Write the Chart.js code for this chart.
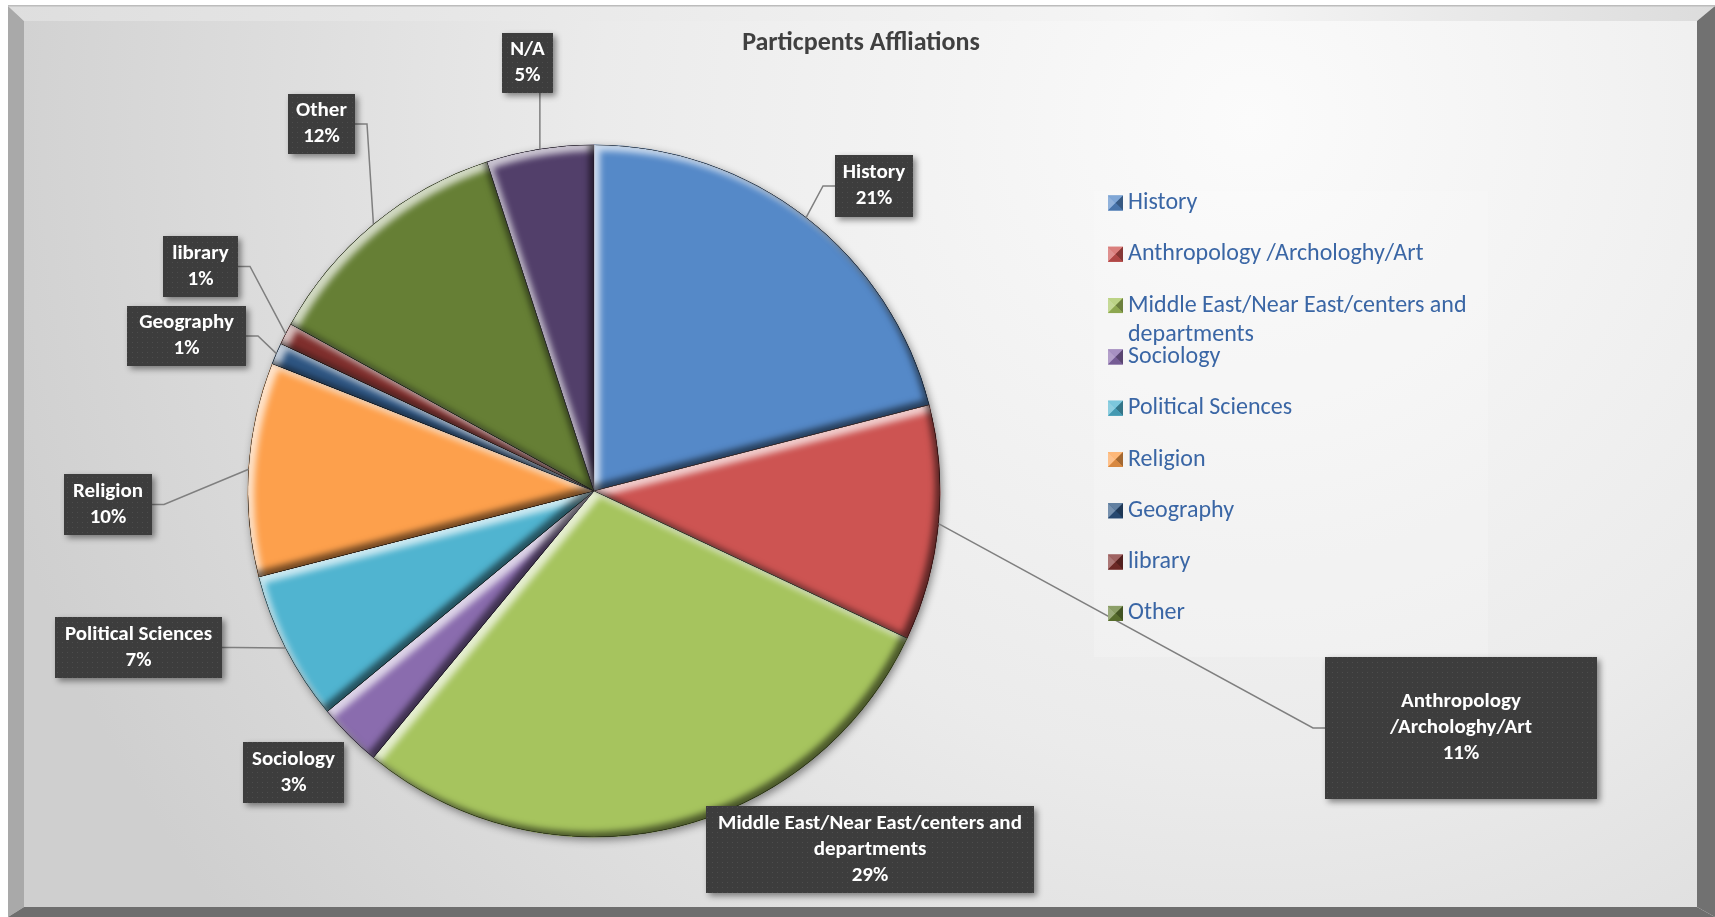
<!DOCTYPE html>
<html>
<head>
<meta charset="utf-8">
<title>Particpents Affliations</title>
<script src="https://cdn.jsdelivr.net/npm/chart.js@4.4.1/dist/chart.umd.min.js"></script>
<style>
  html, body { margin: 0; padding: 0; background: #fff; }
  #wrap { width: 1715px; height: 917px; }
</style>
</head>
<body>
<div id="wrap"><canvas id="pieChart" width="1715" height="917"></canvas></div>
<script>
// ---- data ----
const categories = [
  'History',
  'Anthropology /Archologhy/Art',
  'Middle East/Near East/centers and departments',
  'Sociology',
  'Political Sciences',
  'Religion',
  ' Geography',
  'library',
  'Other',
  'N/A'
];
const shares = [21, 11, 29, 3, 7, 10, 1, 1, 12, 5];
const notInLegend = ['N/A'];

// ---- styles ----
const sliceColors = ['#5589c8', '#cd5452', '#a6c45e', '#8a6cae', '#50b4d0',
                     '#fda04c', '#2e5582', '#7f2f2d', '#667f35', '#523f6a'];
const FONT = "Carlito, Calibri, Lato, 'Open Sans', sans-serif";

// label boxes: center x, center y, width, height, wrap width, draw leader line
const labelBoxes = [
  [874, 186, 78, 62, 999, true],
  [1461, 728, 272, 142, 200, true],
  [870, 849.5, 328, 87, 335, false],
  [293.5, 772.5, 101, 61, 999, false],
  [138.5, 647.5, 167, 61, 999, true],
  [108, 504.5, 88, 61, 999, true],
  [186.5, 336, 119, 60, 999, true],
  [200.5, 266.5, 75, 61, 999, true],
  [321.5, 124, 67, 60, 999, true],
  [527.5, 63, 51, 60, 999, true]
];

function shade(hex, amt) {
  const n = parseInt(hex.slice(1), 16);
  let r = n >> 16, g = (n >> 8) & 255, b = n & 255;
  const t = amt < 0 ? 0 : 255, p = Math.abs(amt);
  r = Math.round(r + (t - r) * p);
  g = Math.round(g + (t - g) * p);
  b = Math.round(b + (t - b) * p);
  return `rgb(${r},${g},${b})`;
}

function wrapText(ctx, text, maxW) {
  const words = text.split(' ');
  const lines = [];
  let cur = '';
  words.forEach(w => {
    const test = cur ? cur + ' ' + w : w;
    if (cur && ctx.measureText(test).width > maxW) {
      lines.push(cur);
      cur = w;
    } else {
      cur = test;
    }
  });
  if (cur) lines.push(cur);
  return lines;
}

function arcPath(ctx, el) {
  const p = el.getProps(['x', 'y', 'startAngle', 'endAngle', 'outerRadius'], true);
  ctx.moveTo(p.x, p.y);
  ctx.arc(p.x, p.y, p.outerRadius, p.startAngle, p.endAngle);
  ctx.closePath();
}

function innerShade(ctx, chart, el, color, dx, dy, blur) {
  ctx.save();
  ctx.beginPath();
  arcPath(ctx, el);
  ctx.clip();
  ctx.beginPath();
  ctx.rect(-60, -60, chart.width + 120, chart.height + 120);
  arcPath(ctx, el);
  ctx.shadowColor = color;
  ctx.shadowBlur = blur;
  ctx.shadowOffsetX = dx;
  ctx.shadowOffsetY = dy;
  ctx.fillStyle = '#000';
  ctx.fill('evenodd');
  ctx.restore();
}

// ---- plugins ----
const framePlugin = {
  id: 'frame',
  beforeDraw(chart) {
    const ctx = chart.ctx;
    const W = chart.width, H = chart.height;
    ctx.save();
    ctx.fillStyle = '#ffffff';
    ctx.fillRect(0, 0, W, H);

    // inner panel gradient
    const g = ctx.createRadialGradient(1250, 120, 0, 1250, 120, 1300);
    g.addColorStop(0, '#fbfbfb');
    g.addColorStop(0.5, '#ebebeb');
    g.addColorStop(1, '#cfcfcf');
    ctx.fillStyle = g;
    ctx.fillRect(24, 21, 1673, 886);

    // bevel edges
    const top = ctx.createLinearGradient(8, 0, W, 0);
    top.addColorStop(0, '#dedede');
    top.addColorStop(0.7, '#f6f6f6');
    top.addColorStop(1, '#dcdcdc');
    ctx.fillStyle = top;
    ctx.beginPath();
    ctx.moveTo(8, 6); ctx.lineTo(W, 6); ctx.lineTo(1697, 21); ctx.lineTo(24, 21);
    ctx.closePath(); ctx.fill();

    ctx.fillStyle = '#a9a9a9';
    ctx.beginPath();
    ctx.moveTo(8, 6); ctx.lineTo(24, 21); ctx.lineTo(24, 907); ctx.lineTo(8, 917);
    ctx.closePath(); ctx.fill();

    ctx.fillStyle = '#717171';
    ctx.beginPath();
    ctx.moveTo(W, 6); ctx.lineTo(W, H); ctx.lineTo(1697, 907); ctx.lineTo(1697, 21);
    ctx.closePath(); ctx.fill();

    ctx.fillStyle = '#6e6e6e';
    ctx.beginPath();
    ctx.moveTo(24, 907); ctx.lineTo(1697, 907); ctx.lineTo(W, H); ctx.lineTo(8, H);
    ctx.closePath(); ctx.fill();

    ctx.fillStyle = '#bcbcbc';
    ctx.fillRect(8, 5, W - 8, 1.5);

    // legend backdrop
    ctx.fillStyle = 'rgba(255,255,255,0.18)';
    ctx.fillRect(1094, 191, 394, 466);

    // title
    ctx.fillStyle = '#404040';
    ctx.font = `bold 26px ${FONT}`;
    ctx.textAlign = 'center';
    ctx.textBaseline = 'middle';
    ctx.fillText('Particpents Affliations', 861, 43);
    ctx.restore();
  },
  beforeDatasetsDraw(chart) {
    const el = chart.getDatasetMeta(0).data[0];
    if (!el) return;
    const ctx = chart.ctx;
    ctx.save();
    ctx.shadowColor = 'rgba(0,0,0,0.45)';
    ctx.shadowBlur = 8;
    ctx.shadowOffsetX = 2;
    ctx.shadowOffsetY = 3;
    ctx.fillStyle = '#555';
    ctx.beginPath();
    ctx.arc(el.x, el.y, el.outerRadius, 0, Math.PI * 2);
    ctx.fill();
    ctx.restore();
  },
  afterDatasetsDraw(chart) {
    const ctx = chart.ctx;
    chart.getDatasetMeta(0).data.forEach(el => {
      innerShade(ctx, chart, el, 'rgba(255,255,255,0.7)', 6, 6, 6);
      innerShade(ctx, chart, el, 'rgba(0,0,0,0.55)', -5, -5, 6);
    });
  }
};

let dotPattern = null;
function getDots(ctx) {
  if (dotPattern) return dotPattern;
  const c = document.createElement('canvas');
  c.width = 5; c.height = 5;
  const p = c.getContext('2d');
  p.fillStyle = '#3d3d3d';
  p.fillRect(0, 0, 5, 5);
  p.fillStyle = '#4d4d4d';
  p.fillRect(2, 2, 1, 1);
  dotPattern = ctx.createPattern(c, 'repeat');
  return dotPattern;
}

const labelPlugin = {
  id: 'sliceLabels',
  afterDraw(chart) {
    const ctx = chart.ctx;
    const meta = chart.getDatasetMeta(0);
    const total = shares.reduce((a, b) => a + b, 0);

    // leader lines
    ctx.save();
    ctx.strokeStyle = '#7f7f7f';
    ctx.lineWidth = 1.5;
    meta.data.forEach((el, i) => {
      const box = labelBoxes[i];
      if (!box || !box[5]) return;
      const mid = (el.startAngle + el.endAngle) / 2;
      const ax = el.x + Math.cos(mid) * el.outerRadius;
      const ay = el.y + Math.sin(mid) * el.outerRadius;
      const l = box[0] - box[2] / 2, r = box[0] + box[2] / 2;
      const t = box[1] - box[3] / 2, b = box[1] + box[3] / 2;
      ctx.beginPath();
      ctx.moveTo(ax, ay);
      if (ax < l) {
        ctx.lineTo(l - 12, box[1]); ctx.lineTo(l, box[1]);
      } else if (ax > r) {
        ctx.lineTo(r + 12, box[1]); ctx.lineTo(r, box[1]);
      } else if (ay > b) {
        ctx.lineTo(ax, b);
      } else {
        ctx.lineTo(ax, t);
      }
      ctx.stroke();
    });
    ctx.restore();

    // boxes and text
    meta.data.forEach((el, i) => {
      const box = labelBoxes[i];
      if (!box) return;
      const l = box[0] - box[2] / 2, t = box[1] - box[3] / 2;
      ctx.save();
      ctx.shadowColor = 'rgba(0,0,0,0.45)';
      ctx.shadowBlur = 6;
      ctx.shadowOffsetX = 3;
      ctx.shadowOffsetY = 3;
      ctx.fillStyle = getDots(ctx);
      ctx.fillRect(l, t, box[2], box[3]);
      ctx.restore();

      ctx.save();
      ctx.font = `bold 21px ${FONT}`;
      ctx.fillStyle = '#ffffff';
      ctx.textAlign = 'center';
      ctx.textBaseline = 'middle';
      const pct = Math.round(shares[i] / total * 100) + '%';
      const lines = wrapText(ctx, categories[i].trim(), box[4]).concat([pct]);
      const lh = 26;
      const y0 = box[1] - (lines.length - 1) * lh / 2;
      lines.forEach((ln, k) => ctx.fillText(ln, box[0], y0 + k * lh));
      ctx.restore();
    });
  }
};

const legendPlugin = {
  id: 'sideLegend',
  afterDraw(chart) {
    const ctx = chart.ctx;
    const x = 1108, step = 51.3, wrapW = 345;
    let y = 203;
    ctx.save();
    ctx.font = `24px ${FONT}`;
    ctx.textBaseline = 'middle';
    ctx.textAlign = 'left';
    categories.forEach((name, i) => {
      if (notInLegend.includes(name)) return;
      const c = sliceColors[i];
      const s = 15, bx = x, by = y - s / 2;
      ctx.fillStyle = c;
      ctx.fillRect(bx, by, s, s);
      const cx = bx + s / 2, cy = by + s / 2;
      const tri = (pts, col) => {
        ctx.fillStyle = col;
        ctx.beginPath();
        ctx.moveTo(pts[0], pts[1]); ctx.lineTo(pts[2], pts[3]); ctx.lineTo(cx, cy);
        ctx.closePath(); ctx.fill();
      };
      tri([bx, by, bx + s, by], shade(c, 0.25));
      tri([bx, by, bx, by + s], shade(c, 0.35));
      tri([bx + s, by, bx + s, by + s], shade(c, -0.35));
      tri([bx, by + s, bx + s, by + s], shade(c, -0.15));

      ctx.fillStyle = '#3a66a5';
      const lines = wrapText(ctx, name, wrapW);
      lines.forEach((ln, k) => ctx.fillText(ln, x + 20, y + k * 29));
      y += step;
    });
    ctx.restore();
  }
};

new Chart(document.getElementById('pieChart'), {
  type: 'pie',
  data: {
    labels: categories,
    datasets: [{
      data: shares,
      backgroundColor: sliceColors,
      borderColor: sliceColors.map(c => shade(c, -0.3)),
      borderWidth: 1
    }]
  },
  options: {
    responsive: false,
    animation: false,
    layout: { padding: { left: 247.5, top: 144.5, right: 774.5, bottom: 79.5 } },
    plugins: {
      legend: { display: false },
      title: { display: false },
      tooltip: { enabled: false }
    }
  },
  plugins: [framePlugin, labelPlugin, legendPlugin]
});
</script>
</body>
</html>
